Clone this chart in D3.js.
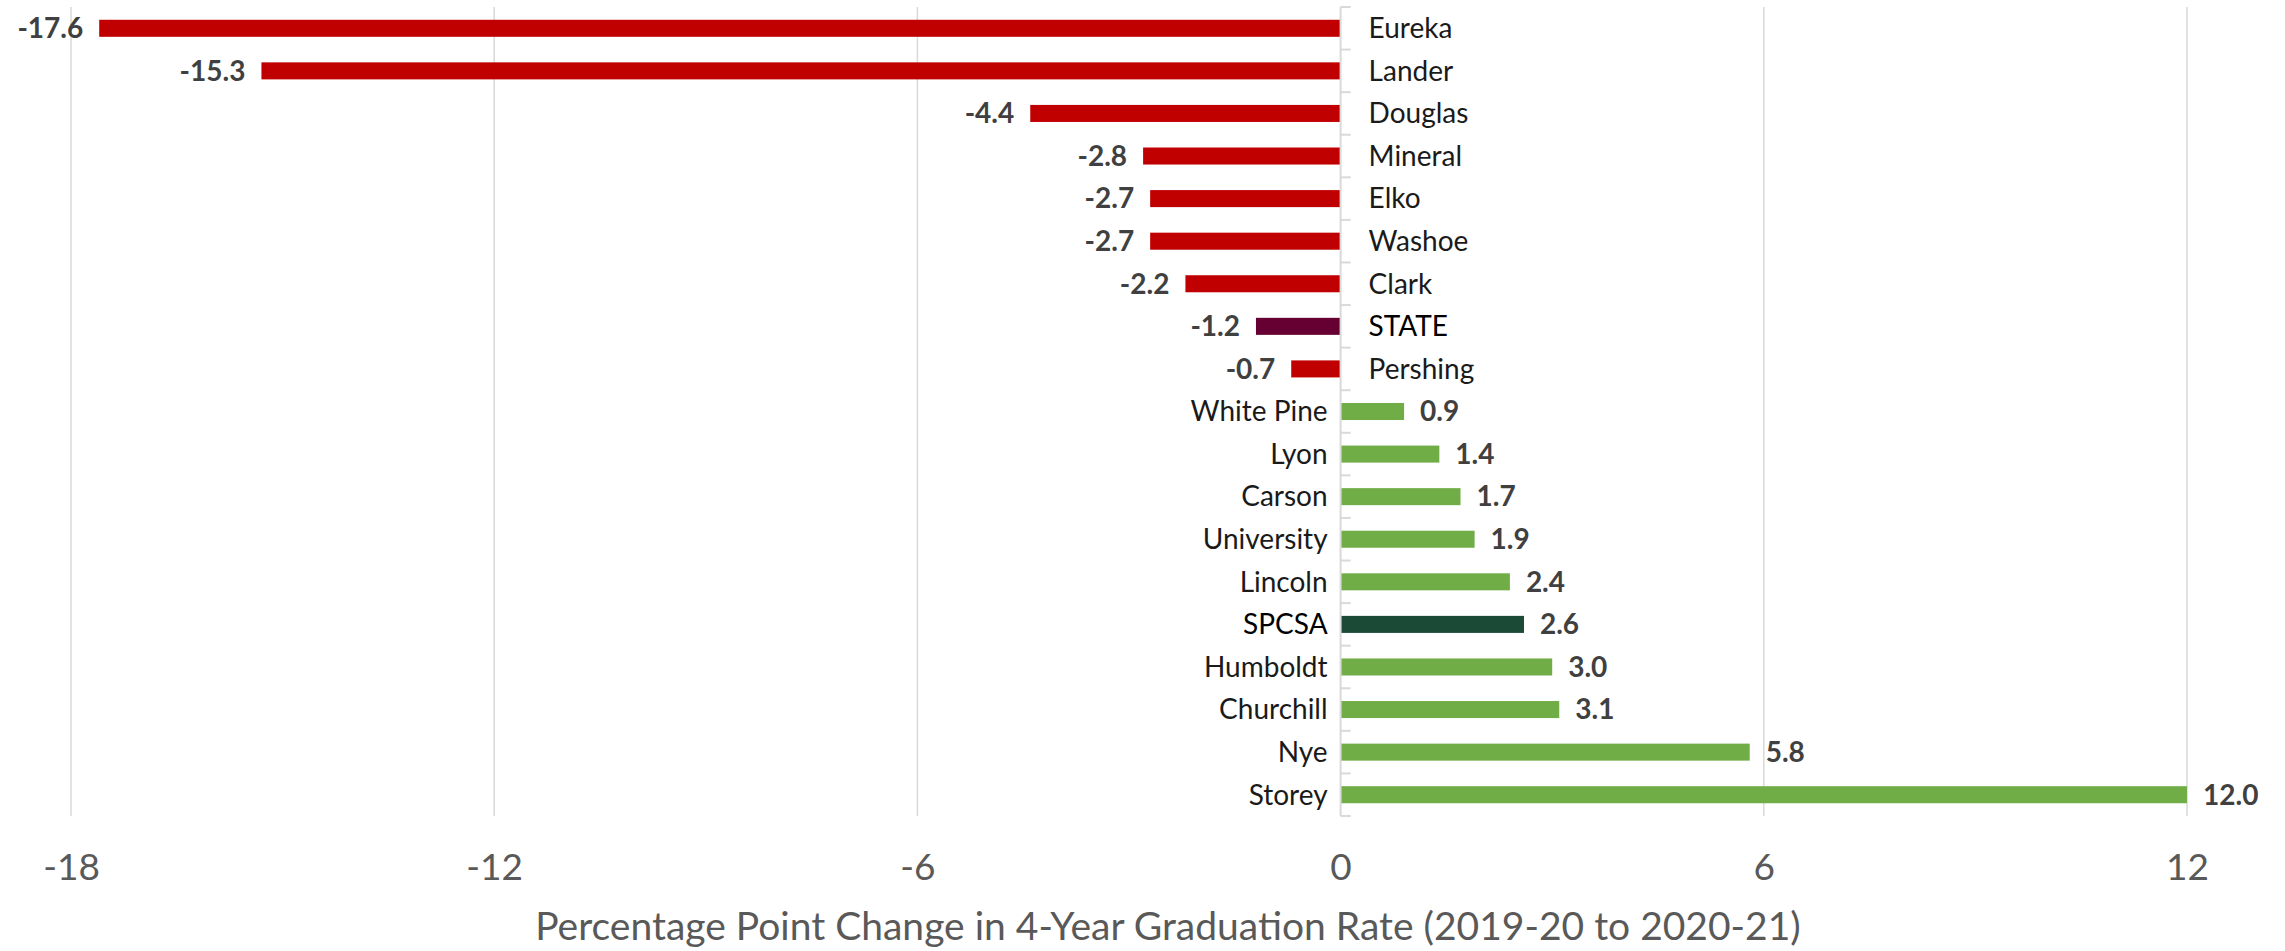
<!DOCTYPE html>
<html>
<head>
<meta charset="utf-8">
<script src="https://cdn.jsdelivr.net/npm/d3@7"></script>
<style>
  body { margin: 0; background: #fff; }
  svg { display: block; font-family: Lato, "Open Sans", sans-serif; }
</style>
</head>
<body>
<svg id="chart" width="2285" height="951"></svg>
<script>
// Percentage point change in 4-year graduation rate, by district
const categories = ['Eureka', 'Lander', 'Douglas', 'Mineral', 'Elko', 'Washoe', 'Clark', 'STATE', 'Pershing',
    'White Pine', 'Lyon', 'Carson', 'University', 'Lincoln', 'SPCSA', 'Humboldt', 'Churchill', 'Nye', 'Storey'];
const values = [-17.6, -15.3, -4.4, -2.8, -2.7, -2.7, -2.2, -1.2, -0.7,
    0.9, 1.4, 1.7, 1.9, 2.4, 2.6, 3.0, 3.1, 5.8, 12.0];
const xTicks = [-18, -12, -6, 0, 6, 12];
const axisTitle = 'Percentage Point Change in 4-Year Graduation Rate (2019-20 to 2020-21)';

const data = categories.map((c, i) => ({ name: c, value: values[i] }));

// d3.format puts out a unicode minus; the chart uses a plain hyphen
const fmt1 = v => d3.format('.1f')(v).replace('\u2212', '-');
const fmt0 = v => d3.format('d')(v).replace('\u2212', '-');

function barColor(d) {
    if (d.name === 'STATE') return '#660033';
    if (d.name === 'SPCSA') return '#1b4a36';
    return d.value < 0 ? '#c00000' : '#70ad47';
}

const svg = d3.select('#chart');
const margin = { top: 7, right: 98, bottom: 135, left: 71 };
const W = 2285, H = 951;

const x = d3.scaleLinear()
    .domain([-18, 12])
    .range([margin.left, W - margin.right]);

const y = d3.scaleBand()
    .domain(categories)
    .range([margin.top, H - margin.bottom])
    .paddingInner(0.6)
    .paddingOuter(0.3);

const step = y.step();

// vertical gridlines (skip 0, the category axis sits there)
svg.append('g')
    .selectAll('line')
    .data(xTicks.filter(t => t !== 0))
    .join('line')
    .attr('x1', d => x(d)).attr('x2', d => x(d))
    .attr('y1', margin.top).attr('y2', H - margin.bottom)
    .attr('stroke', '#d9d9d9')
    .attr('stroke-width', 1.5);

// bars
svg.append('g')
    .selectAll('rect')
    .data(data)
    .join('rect')
    .attr('x', d => x(Math.min(0, d.value)))
    .attr('y', d => y(d.name))
    .attr('width', d => Math.abs(x(d.value) - x(0)))
    .attr('height', y.bandwidth())
    .attr('fill', barColor);

// category axis line + ticks between categories
const axisG = svg.append('g');
axisG.append('line')
    .attr('x1', x(0)).attr('x2', x(0))
    .attr('y1', margin.top).attr('y2', H - margin.bottom)
    .attr('stroke', '#d9d9d9')
    .attr('stroke-width', 2);
axisG.selectAll('line.tick')
    .data(d3.range(categories.length + 1))
    .join('line')
    .attr('class', 'tick')
    .attr('x1', x(0)).attr('x2', x(0) + 10)
    .attr('y1', i => margin.top + i * step)
    .attr('y2', i => margin.top + i * step)
    .attr('stroke', '#d9d9d9')
    .attr('stroke-width', 2);

// category labels, on the opposite side of the bar
svg.append('g')
    .selectAll('text')
    .data(data)
    .join('text')
    .attr('x', d => d.value < 0 ? x(0) + 28 : x(0) - 13)
    .attr('y', d => y(d.name) + y.bandwidth() / 2)
    .attr('dy', '0.35em')
    .attr('text-anchor', d => d.value < 0 ? 'start' : 'end')
    .attr('font-size', 28)
    .attr('fill', d => (d.name === 'STATE' || d.name === 'SPCSA') ? '#000' : '#1a1a1a')
    .text(d => d.name);

// value labels at bar ends
svg.append('g')
    .selectAll('text')
    .data(data)
    .join('text')
    .attr('x', d => d.value < 0 ? x(d.value) - 16 : x(d.value) + 16)
    .attr('y', d => y(d.name) + y.bandwidth() / 2)
    .attr('dy', '0.35em')
    .attr('text-anchor', d => d.value < 0 ? 'end' : 'start')
    .attr('font-size', 28)
    .attr('font-weight', 'bold')
    .attr('fill', '#404040')
    .text(d => fmt1(d.value));

// value axis (no line, labels only)
const xAxis = d3.axisBottom(x)
    .tickValues(xTicks)
    .tickSize(0)
    .tickPadding(0)
    .tickFormat(fmt0);

const xg = svg.append('g')
    .attr('transform', `translate(0,${H - margin.bottom + 38})`)
    .call(xAxis);
xg.select('.domain').remove();
xg.selectAll('text')
    .attr('font-family', 'Lato, sans-serif')
    .attr('font-size', 37)
    .attr('fill', '#595959')
    .attr('dy', '0.71em');

svg.append('text')
    .attr('x', 1168)
    .attr('y', 940)
    .attr('text-anchor', 'middle')
    .attr('font-size', 39)
    .attr('fill', '#595959')
    .text(axisTitle);
</script>
</body>
</html>
